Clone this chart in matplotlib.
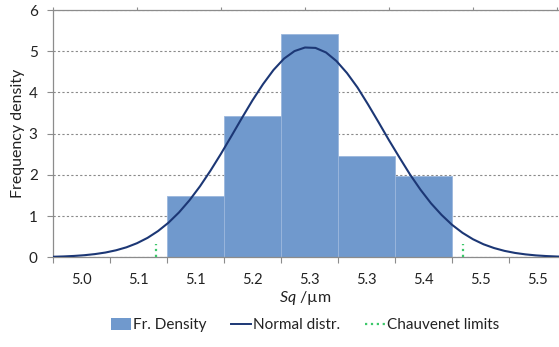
import numpy as np
import matplotlib
matplotlib.use("Agg")
import matplotlib.pyplot as plt
from matplotlib.lines import Line2D
from matplotlib.patches import Patch

plt.rcParams['font.family'] = ['Lato', 'DejaVu Sans']
plt.rcParams['mathtext.fontset'] = 'custom'
plt.rcParams['mathtext.it'] = 'Lato:italic'

# ── data ──────────────────────────────────────────────────────────────────────
cat_labels = ["5.0", "5.1", "5.1", "5.2", "5.3", "5.3", "5.4", "5.5", "5.5"]
fr_density = [0, 0, 1.48, 3.43, 5.41, 2.46, 1.98, 0, 0]

# normal distribution curve (secondary x axis, Sq in µm)
norm_x = [4.9500, 4.9625, 4.9750, 4.9875, 5.0000, 5.0125, 5.0250, 5.0375,
          5.0500, 5.0625, 5.0750, 5.0875, 5.1000, 5.1125, 5.1250, 5.1375,
          5.1500, 5.1625, 5.1750, 5.1875, 5.2000, 5.2125, 5.2250, 5.2375,
          5.2500, 5.2625, 5.2750, 5.2875, 5.3000, 5.3125, 5.3250, 5.3375,
          5.3500, 5.3625, 5.3750, 5.3875, 5.4000, 5.4125, 5.4250, 5.4375,
          5.4500, 5.4625, 5.4750, 5.4875, 5.5000, 5.5125, 5.5250, 5.5375,
          5.5500, 5.5625, 5.5750]
norm_y = [0.013, 0.021, 0.033, 0.051, 0.078, 0.116, 0.170, 0.243,
          0.342, 0.471, 0.636, 0.840, 1.089, 1.384, 1.723, 2.103,
          2.513, 2.945, 3.383, 3.809, 4.200, 4.545, 4.820, 5.003,
          5.090, 5.080, 4.970, 4.760, 4.470, 4.120, 3.710, 3.280,
          2.840, 2.420, 2.010, 1.640, 1.310, 1.030, 0.789, 0.594,
          0.438, 0.316, 0.225, 0.156, 0.106, 0.071, 0.046, 0.030,
          0.019, 0.011, 0.007]

chauvenet_x = [5.0726, 5.4377]
chauvenet_h = 0.33

# ── figure ────────────────────────────────────────────────────────────────────
fig = plt.figure(figsize=(5.59, 3.47), dpi=100)
ax = fig.add_axes([53 / 559, 1 - 257.3 / 347, 513 / 559, 247.3 / 347])

grey = "#8c8c8c"
pos = np.arange(len(cat_labels))
dens = np.array(fr_density)
nz = dens > 0
ax.bar(pos[nz], dens[nz], width=1, align="edge", color="#7099cd",
       edgecolor="#9bb7dd", linewidth=0.6, zorder=2)

ax.set_xlim(0, len(cat_labels))
ax.set_ylim(0, 6)
ax.set_xticks(np.arange(len(cat_labels) + 1))
ax.set_xticklabels([])
ax.set_xticks(pos + 0.5, minor=True)
ax.set_xticklabels(cat_labels, minor=True)
ax.tick_params(axis="x", which="major", direction="out", length=4.5, color=grey, width=0.8)
ax.tick_params(axis="x", which="minor", length=0, pad=11, labelsize=10.5, labelcolor="#222222")
ax.set_yticks(range(7))
ax.tick_params(axis="y", direction="out", length=4, color=grey, width=0.8,
               pad=7, labelsize=11, labelcolor="#222222")
ax.yaxis.grid(True, color="#8a8a8a", linestyle=(0, (2, 2)), linewidth=0.8, zorder=0)
ax.set_axisbelow(True)
for s in ["right", "top"]:
    ax.spines[s].set_visible(False)
for s in ["left", "bottom"]:
    ax.spines[s].set_color(grey)
    ax.spines[s].set_linewidth(0.9)

# secondary axis for curve and limits
ax2 = ax.twiny()
x0 = 4.95
ax2.set_xlim(x0, x0 + 513 / 840)
ax2.set_xticks([x0 + 0.1 * k for k in range(7)])
ax2.set_xticklabels([])
ax2.tick_params(axis="x", direction="out", length=2.5, color=grey, width=0.8)
for s in ["right", "left", "bottom"]:
    ax2.spines[s].set_visible(False)
ax2.spines["top"].set_color(grey)
ax2.spines["top"].set_linewidth(0.9)

ax2.plot(norm_x, norm_y, color="#1c3775", linewidth=1.5, zorder=4)
for cx in chauvenet_x:
    ax2.plot([cx, cx], [0, chauvenet_h], color="#3cc86a", linestyle=":",
             linewidth=1.6, zorder=4)
ax2.set_ylim(0, 6)

fig.text(305 / 559, 1 - 298 / 347, r"$\it{Sq}$ /µm", ha="center", va="center",
         fontsize=11.5, color="#222222")
fig.text(18.5 / 559, 1 - 133.6 / 347, "Frequency density", rotation=90,
         ha="center", va="center", fontsize=11.5, color="#222222")

handles = [Patch(facecolor="#7099cd", edgecolor="none"),
           Line2D([], [], color="#1c3775", linewidth=1.4),
           Line2D([], [], color="#3cc86a", linestyle=":", linewidth=1.6)]
fig.legend(handles, ["Fr. Density", "Normal distr.", "Chauvenet limits"],
           loc="center", bbox_to_anchor=(305 / 559, 1 - 325 / 347), ncol=3,
           frameon=False, fontsize=11, handlelength=1.3, handleheight=0.9,
           handletextpad=0.15, columnspacing=1.6, labelcolor="#222222")

fig.savefig("out.png", dpi=100)
